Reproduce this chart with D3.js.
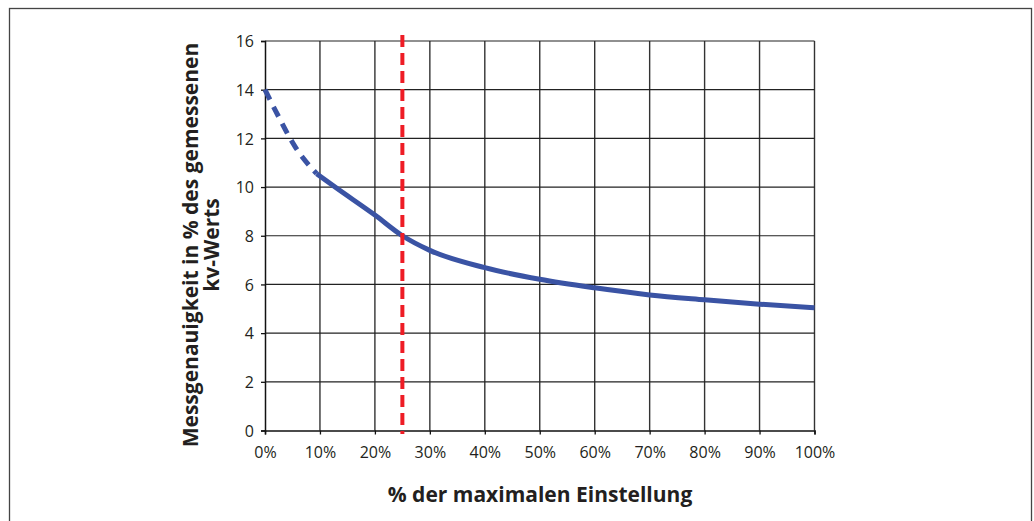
<!DOCTYPE html>
<html><head><meta charset="utf-8">
<script src="https://cdn.jsdelivr.net/npm/d3@7"></script>
<style>body{margin:0;background:#fff;} text{font-family:"Open Sans",sans-serif;}</style>
</head><body><svg id="c" width="1034" height="521"></svg>
<script>
const xTicks = [0,10,20,30,40,50,60,70,80,90,100];
const yTicks = [0,2,4,6,8,10,12,14,16];
const dashedX = [0, 2, 5.5, 9.4];
const dashedY = [14, 13.1, 11.65, 10.55];
const solidX = [9.4, 12.75, 20, 25, 30, 40, 50, 60, 70, 80, 90, 100];
const solidY = [10.55, 10.0, 8.85, 8.0, 7.4, 6.69, 6.21, 5.86, 5.57, 5.37, 5.19, 5.04];
const markerX = 25;
const xTitle = "% der maximalen Einstellung";
const yTitle = ["Messgenauigkeit in % des gemessenen", "kv-Werts"];

const svg = d3.select("#c");
svg.append("rect").attr("x",9.5).attr("y",8.5).attr("width",1022).attr("height",530)
  .attr("fill","none").attr("stroke","#444").attr("stroke-width",1.3);

const x = d3.scaleLinear().domain([0,100]).range([265,814.5]);
const y = d3.scaleLinear().domain([0,16]).range([430.5,41]);

const g = svg.append("g");
g.selectAll(".vg").data(xTicks.slice(1)).join("line")
  .attr("x1",d=>x(d)).attr("x2",d=>x(d)).attr("y1",y(16)).attr("y2",y(0))
  .attr("stroke","#333").attr("stroke-width",1.4);
g.selectAll(".hg").data(yTicks.slice(1)).join("line")
  .attr("x1",x(0)).attr("x2",x(100)).attr("y1",d=>y(d)).attr("y2",d=>y(d))
  .attr("stroke","#222").attr("stroke-width",1.2);

const xa = g.append("g").attr("transform",`translate(0,${y(0)})`)
  .call(d3.axisBottom(x).tickValues(xTicks).tickSize(4).tickFormat(d=>d+"%"));
const ya = g.append("g").attr("transform",`translate(${x(0)},0)`)
  .call(d3.axisLeft(y).tickValues(yTicks).tickSize(4).tickFormat(d3.format("d")));
[xa,ya].forEach(a=>{
  a.select(".domain").attr("stroke","#111").attr("stroke-width",1.5);
  a.selectAll(".tick line").attr("stroke","#111").attr("stroke-width",1.3);
  a.selectAll("text").attr("fill","#231f20").style("font-size","16px").style("font-family","'Open Sans',sans-serif");
});
xa.selectAll("text").attr("dy",null).attr("y",27);
ya.selectAll("text").attr("x",-11).attr("dy","0.36em");

const line = d3.line().x(d=>x(d[0])).y(d=>y(d[1])).curve(d3.curveMonotoneX);
g.append("path").attr("d",line(dashedX.map((v,i)=>[v,dashedY[i]])))
  .attr("fill","none").attr("stroke","#3a53a4").attr("stroke-width",5)
  .attr("stroke-dasharray","11,8");
g.append("path").attr("d",line(solidX.map((v,i)=>[v,solidY[i]])))
  .attr("fill","none").attr("stroke","#3a53a4").attr("stroke-width",5);

g.append("line").attr("x1",x(markerX)).attr("x2",x(markerX)).attr("y1",35).attr("y2",434)
  .attr("stroke","#ee1c25").attr("stroke-width",4).attr("stroke-dasharray","12,6");

svg.append("text").attr("x",540).attr("y",502).attr("text-anchor","middle")
  .style("font-size","21px").style("font-weight","700").attr("fill","#231f20").text(xTitle);
yTitle.forEach((t,i)=>{
  svg.append("text").attr("transform",`translate(${198+i*21},245) rotate(-90)`)
    .attr("text-anchor","middle").style("font-size","21px").style("font-weight","700")
    .attr("fill","#231f20").text(t);
});
</script></body></html>
